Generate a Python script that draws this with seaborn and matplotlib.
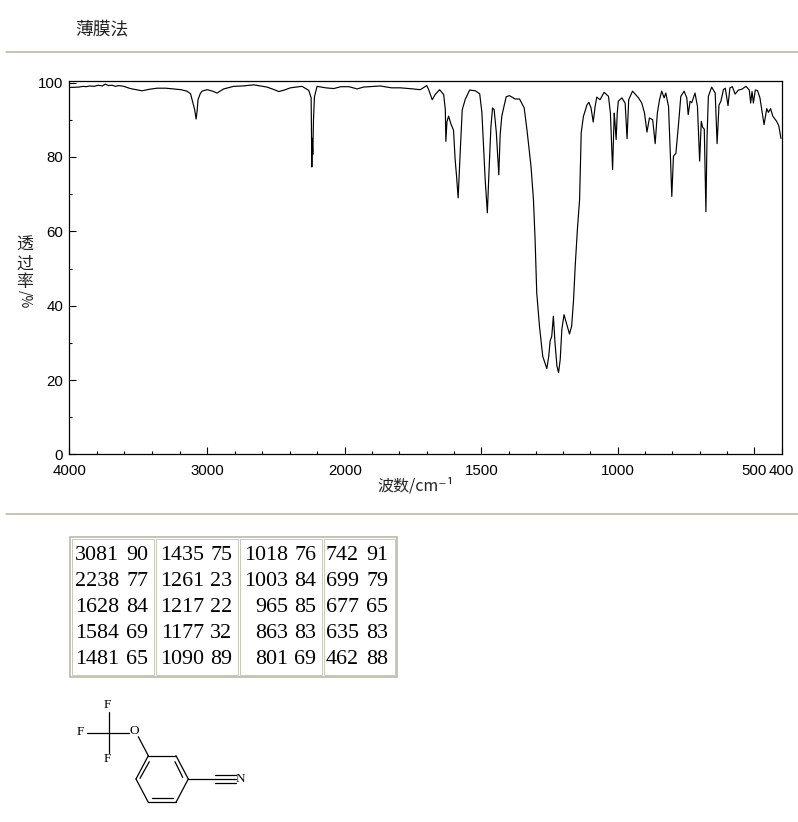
import numpy as np
import seaborn as sns
import matplotlib.pyplot as plt
from matplotlib.patches import Rectangle

# spectrum
wavenumber = [3996, 3930, 3900, 3880, 3850, 3820, 3790, 3760, 3739, 3715, 3690, 3665, 3640, 3605, 3557, 3472, 3420, 3363, 3300, 3243, 3190, 3146, 3120,
              3109, 3090, 3080, 3072, 3066, 3050, 3037, 3000, 2960, 2928, 2880, 2807, 2740, 2662, 2565, 2520,
              2480, 2440, 2395, 2311, 2262, 2245, 2240, 2237, 2233, 2228, 2221, 2202, 2140, 2081, 2030, 1985,
              1955, 1932, 1870, 1830, 1797, 1750, 1724, 1700, 1693, 1680, 1669, 1653, 1638, 1632, 1630, 1626,
              1620, 1612, 1602, 1596, 1591, 1585, 1577, 1570, 1559, 1543, 1522, 1506, 1498, 1486, 1478, 1472,
              1465, 1459, 1453, 1445, 1436, 1431, 1425, 1409, 1397, 1376, 1360, 1343, 1333, 1318, 1309, 1303,
              1297, 1287, 1275, 1260, 1253, 1248, 1242, 1236, 1230, 1223, 1217, 1211, 1205, 1197, 1187, 1177,
              1169, 1162, 1156, 1148, 1140, 1134, 1126, 1113, 1106, 1098, 1090, 1083, 1077, 1065, 1050, 1034,
              1027, 1019, 1013, 1010, 1006, 1002, 998, 985, 973, 966, 960, 946, 924, 912, 902, 893,
              884, 872, 863, 855, 847, 839, 830, 824, 814, 807, 802, 796, 787, 778, 769, 757,
              747, 742, 735, 729, 717, 708, 700, 694, 689, 683, 677, 673, 668, 656, 643, 636,
              629, 622, 613, 606, 596, 589, 580, 570, 558, 546, 530, 518, 513, 508, 503, 496,
              488, 479, 464, 454, 448, 440, 432, 424, 418, 410, 402]
transmittance = [98.7, 98.8, 99.0, 98.9, 99.1, 99.0, 99.3, 99.1, 99.6, 99.2, 99.3, 99.0, 99.2, 99.0, 98.4, 97.8, 98.2, 98.5, 98.5, 98.3, 98.1, 97.7, 97.0,
                 95.4, 92.7, 90.2, 92.5, 95.4, 97.0, 97.7, 98.1, 97.7, 97.2, 98.3, 99.0, 99.1, 99.4, 98.8, 98.2,
                 97.6, 98.0, 98.6, 99.0, 97.9, 95.9, 77.3, 85.0, 80.7, 90.0, 96.2, 99.0, 98.6, 98.4, 98.9, 98.9,
                 98.3, 98.8, 99.1, 98.6, 98.6, 98.3, 98.1, 99.2, 98.1, 95.4, 96.8, 98.1, 96.8, 92.7, 84.2, 89.5,
                 91.0, 89.0, 87.2, 79.3, 75.0, 69.0, 82.0, 92.7, 95.5, 98.0, 97.8, 97.0, 92.0, 74.0, 65.0, 76.0,
                 88.0, 93.2, 92.7, 86.5, 75.2, 86.0, 91.0, 96.2, 96.5, 95.6, 95.6, 93.2, 87.4, 77.5, 68.5, 57.8,
                 43.5, 34.5, 26.4, 23.1, 26.4, 30.5, 31.8, 37.2, 30.0, 23.8, 22.0, 25.5, 33.6, 37.6, 35.0, 32.4,
                 34.5, 41.7, 50.7, 60.5, 68.5, 86.5, 90.9, 94.0, 94.7, 93.2, 89.4, 93.6, 96.1, 95.4, 97.4, 96.3,
                 91.8, 76.6, 91.8, 89.0, 84.7, 91.8, 95.0, 95.9, 94.5, 84.9, 95.4, 97.7, 95.9, 94.5, 91.8, 86.7,
                 90.5, 90.0, 83.6, 91.8, 95.4, 97.7, 95.9, 97.2, 93.6, 80.0, 69.4, 80.2, 81.0, 88.3, 96.3, 97.7,
                 95.9, 91.4, 95.0, 94.6, 97.2, 93.6, 78.9, 89.6, 88.0, 87.5, 65.3, 85.0, 96.3, 98.8, 97.2, 83.6,
                 94.0, 95.0, 98.1, 98.5, 93.8, 98.6, 98.9, 96.9, 98.0, 98.2, 99.0, 98.0, 94.5, 97.6, 94.5, 98.0,
                 97.9, 95.9, 88.7, 93.0, 92.0, 93.0, 91.0, 90.2, 89.6, 88.4, 85.0]

y_major = [0, 20, 40, 60, 80, 100]
y_minor = [10, 30, 50, 70, 90]
x_major = [4000, 3000, 2000, 1500, 1000, 500, 400]
x_minor = [3800, 3600, 3400, 3200, 2800, 2600, 2400, 2200,
           1900, 1800, 1700, 1600, 1400, 1300, 1200, 1100, 900, 800, 700, 600]

# peak table, one list per cell column
peak_wn = [['3081', '2238', '1628', '1584', '1481'],
           ['1435', '1261', '1217', '1177', '1090'],
           ['1018', '1003', '965', '863', '801'],
           ['742', '699', '677', '635', '462']]
peak_t = [['90', '77', '84', '69', '65'],
          ['75', '23', '22', '32', '89'],
          ['76', '84', '85', '83', '69'],
          ['91', '79', '65', '83', '88']]

W, H = 798, 822
CJK = ['Noto Sans CJK SC', 'DejaVu Sans']
RULE = '#b4b4a2'


def forward(w):
    w = np.asarray(w, dtype=float)
    return np.where(w > 2000, 2000 + (w - 2000) * 0.505, w)


def inverse(u):
    u = np.asarray(u, dtype=float)
    return np.where(u > 2000, 2000 + (u - 2000) / 0.505, u)


sns.set_style('white')
fig = plt.figure(figsize=(W / 100, H / 100), dpi=100)

# page layer in pixel coordinates
page = fig.add_axes([0, 0, 1, 1])
page.set_xlim(0, W)
page.set_ylim(H, 0)
page.axis('off')

page.text(75, 29.5, '薄膜法', family=CJK, fontsize=12.8, color='#222222', ha='left', va='center')
for y in (52, 514):
    page.plot([6, 798], [y, y], color=RULE, lw=1.1)

# axes
ax = fig.add_axes([69.3 / W, 1 - 454.5 / H, (781.5 - 69.3) / W, (454.5 - 81.5) / H])
ax.patch.set_alpha(0)
sns.lineplot(x=wavenumber, y=transmittance, sort=False, estimator=None, color='black', lw=0.85, ax=ax)
ax.set_xscale('function', functions=(forward, inverse))
ax.set_xlim(4000, 400)
ax.set_ylim(0, 100.3)
ax.set_xticks(x_major)
ax.set_xticklabels([str(v) for v in x_major], family='Liberation Sans', fontsize=10.8, color='black')
ax.set_xticks(x_minor, minor=True)
ax.set_yticks(y_major)
ax.set_yticklabels([str(v) for v in y_major], family='Liberation Sans', fontsize=10.8, color='black')
ax.set_yticks(y_minor, minor=True)
ax.tick_params(axis='both', which='major', direction='in', length=5, width=0.8, color='black')
ax.tick_params(axis='both', which='minor', direction='in', length=2.4, width=0.8, color='black')
ax.tick_params(axis='x', which='both', bottom=True, pad=6.5)
ax.tick_params(axis='y', which='both', left=True, pad=4.5)
for s in ax.spines.values():
    s.set_visible(True)
    s.set_color('black')
    s.set_linewidth(0.9)

# axis titles
page.text(416, 486, '波数/cm⁻¹', family=CJK, fontsize=11.5, color='#222222', ha='center', va='center')
for y, ch in zip((245, 264, 282), '透过率'):
    page.text(24.5, y, ch, family=CJK, fontsize=12.2, color='#222222', ha='center', va='center')
page.text(24.5, 299, '/%', family=CJK, fontsize=10, color='#222222', ha='center', va='center', rotation=270)

# peak table
page.add_patch(Rectangle((70, 537), 327, 140, fill=False, ec=RULE, lw=1.1))
cell_x = [(72, 154), (156, 238), (240, 322), (324, 395)]
wn_right = [119, 204, 288, 359]
t_right = [148, 232, 316, 388]
rows_y = [555.5, 581.5, 607.5, 633.5, 659.5]
for c in range(4):
    x0, x1 = cell_x[c]
    page.add_patch(Rectangle((x0, 539), x1 - x0, 136, fill=False, ec='#c8c8ba', lw=0.7))
    for r in range(5):
        page.text(wn_right[c], rows_y[r], peak_wn[c][r], family='Liberation Serif', fontsize=15.8,
                  color='black', ha='right', va='center')
        page.text(t_right[c], rows_y[r], peak_t[c][r], family='Liberation Serif', fontsize=15.8,
                  color='black', ha='right', va='center')

# structure drawing
bonds = [((108.7, 711.7), (108.7, 753.3)), ((86.7, 732.7), (129.3, 732.7)), ((138.3, 736.7), (148.3, 755.7)),
         ((148.3, 755.7), (176, 755.7)), ((176, 755.7), (188.3, 779)), ((188.3, 779), (176, 802.3)),
         ((176, 802.3), (148.3, 802.3)), ((148.3, 802.3), (136, 779)), ((136, 779), (148.3, 755.7)),
         ((149.3, 761.7), (140, 778.3)), ((175, 761.7), (182.7, 777.3)), ((151.7, 797.7), (172.7, 797.7)),
         ((188.3, 779), (235.7, 779)), ((215, 775), (235.7, 775)), ((215, 783), (235.7, 783))]
for a, b in bonds:
    page.plot([a[0], b[0]], [a[1], b[1]], color='black', lw=0.9)
atoms = [('F', 107.5, 705), ('F', 80, 731.7), ('F', 107.3, 759.3), ('O', 134.3, 731.3), ('N', 240, 779)]
for label, x, y in atoms:
    page.text(x, y, label, family='Liberation Serif', fontsize=9.5, color='black', ha='center', va='center')

fig.savefig('out.png', dpi=100)
